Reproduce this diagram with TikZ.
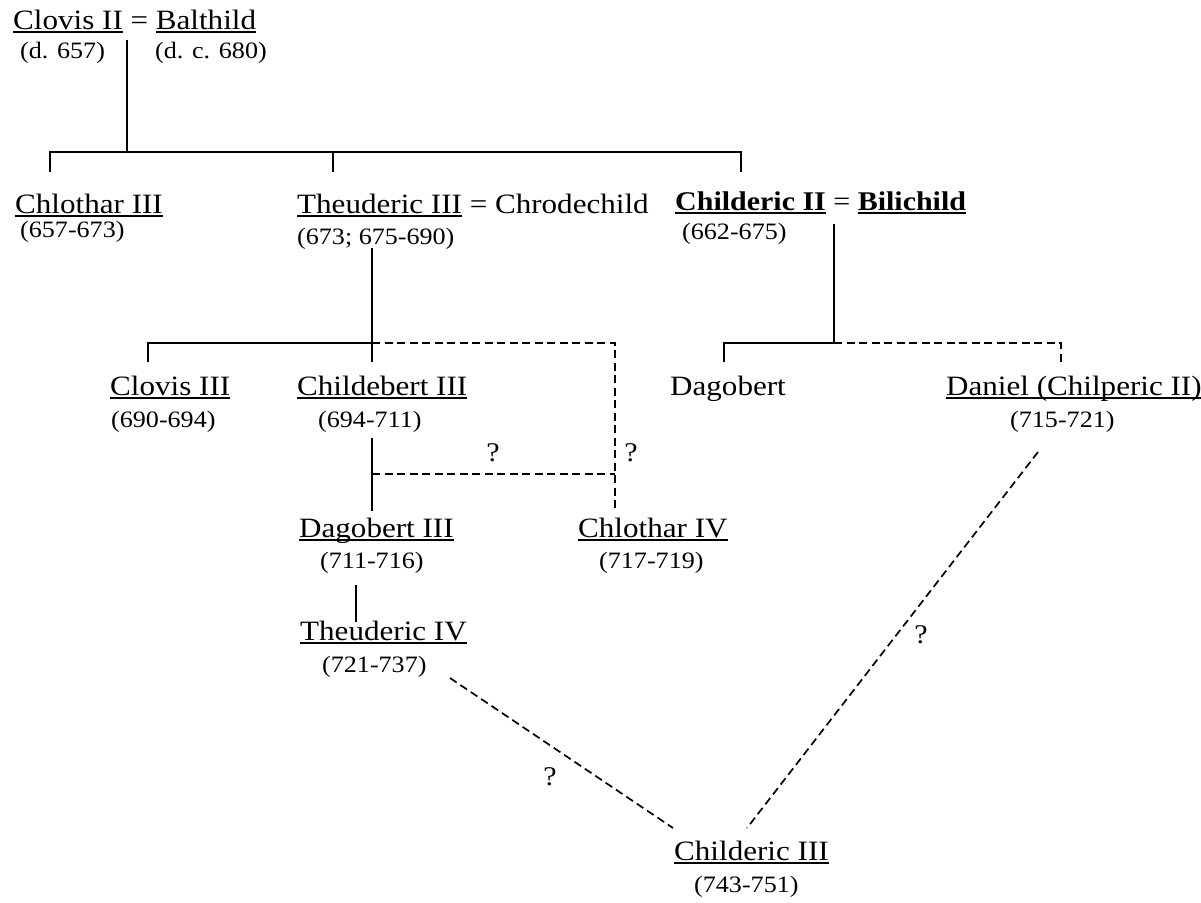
\documentclass[tikz,border=0pt]{standalone}
\usepackage{fontspec}
\setmainfont{Liberation Serif}[FakeStretch=1.11]
\newsavebox\undlbox
% underline at a fixed distance below the baseline
\newcommand\undl[1]{\sbox\undlbox{#1}\rlap{\rule[-3.5pt]{\wd\undlbox}{1.4pt}}\usebox\undlbox}
\tikzset{
  person/.style={anchor=base west, inner sep=0pt, font=\fontsize{28}{31}\selectfont},
  reign/.style={anchor=base west, inner sep=0pt, font=\fontsize{23.5}{27}\selectfont},
  query/.style={anchor=center, inner sep=0pt, font=\fontsize{27}{30}\selectfont},
  link/.style={line width=1.7pt},
  doubt/.style={line width=1.7pt, dash pattern=on 8pt off 4.5pt},
}
\begin{document}
\begin{tikzpicture}[x=1pt, y=-1pt]
\useasboundingbox[fill=white] (0,0) rectangle (1201,902);

% ---- people and reigns ----
\node[person] (clovisII) at (13,29) {\undl{Clovis II} = \undl{Balthild}};
\node[reign] (clovisIId) at (20,58) {(d. 657)};
\node[reign] (balthildd) at (155,58) {(d. c. 680)};

\node[person] (chlotharIII) at (15,213) {\undl{Chlothar III}};
\node[reign] (chlotharIIId) at (20,237) {(657-673)};
\node[person] (theudericIII) at (297,213) {\undl{Theuderic III} = Chrodechild};
\node[reign] (theudericIIId) at (297,244) {(673; 675-690)};
\node[person, font=\fontsize{27}{30}\selectfont] (childericII) at (675,210) {\textbf{\undl{Childeric II}} = \textbf{\undl{Bilichild}}};
\node[reign] (childericIId) at (682,239) {(662-675)};

\node[person] (clovisIII) at (110,395) {\undl{Clovis III}};
\node[reign] (clovisIIId) at (111,427) {(690-694)};
\node[person] (childebertIII) at (297,395) {\undl{Childebert III}};
\node[reign] (childebertIIId) at (318,427) {(694-711)};
\node[person] (dagobert) at (670,395) {Dagobert};
\node[person] (daniel) at (946,395) {\undl{Daniel (Chilperic II)}};
\node[reign] (danield) at (1010,427) {(715-721)};

\node[person] (dagobertIII) at (299,537) {\undl{Dagobert III}};
\node[reign] (dagobertIIId) at (320,568) {(711-716)};
\node[person] (chlotharIV) at (578,537) {\undl{Chlothar IV}};
\node[reign] (chlotharIVd) at (599,568) {(717-719)};

\node[person] (theudericIV) at (300,640) {\undl{Theuderic IV}};
\node[reign] (theudericIVd) at (322,672) {(721-737)};

\node[person] (childericIII) at (674,860) {\undl{Childeric III}};
\node[reign] (childericIIId) at (694,892) {(743-751)};

% ---- question marks on uncertain links ----
\node[query] (q1) at (493,453) {?};
\node[query] (q2) at (631,453) {?};
\node[query] (q3) at (550,777) {?};
\node[query] (q4) at (921,635) {?};

% ---- junction points ----
\coordinate (p0) at (127,40);
\coordinate (p0b) at (127,152);
\coordinate (b1l) at (50,152);
\coordinate (b1r) at (741,152);
\coordinate (b1c) at (333,152);
\coordinate (t1l) at (50,172);
\coordinate (t1c) at (333,172);
\coordinate (t1r) at (741,172);

\coordinate (p1) at (372,248);
\coordinate (b2m) at (372,343);
\coordinate (b2l) at (148,343);
\coordinate (t2l) at (148,362);
\coordinate (t2m) at (372,362);
\coordinate (b2r) at (615,343);
\coordinate (t2r) at (615,508);

\coordinate (p2) at (372,438);
\coordinate (p2b) at (372,511);
\coordinate (j2) at (372,474);
\coordinate (j2r) at (615,474);

\coordinate (p3) at (834,224);
\coordinate (b3m) at (834,343);
\coordinate (b3l) at (724,343);
\coordinate (t3l) at (724,362);
\coordinate (b3r) at (1061,343);
\coordinate (t3r) at (1061,363);

\coordinate (p4) at (356,585);
\coordinate (p4b) at (356,622);

\coordinate (d1a) at (450,678);
\coordinate (d1b) at (673,828);
\coordinate (d2a) at (1038,452);
\coordinate (d2b) at (747,828);

% ---- connectors ----
\draw[link] (p0) -- (p0b);
\draw[link] (t1l) -- (b1l) -- (b1r) -- (t1r);
\draw[link] (b1c) -- (t1c);

\draw[link] (p1) -- (t2m);
\draw[link] (t2l) -- (b2l) -- (b2m);
\draw[doubt] (b2m) -- (b2r) -- (t2r);

\draw[link] (p2) -- (p2b);
\draw[doubt] (j2) -- (j2r);

\draw[link] (p3) -- (b3m);
\draw[link] (t3l) -- (b3l) -- (b3m);
\draw[doubt] (b3m) -- (b3r) -- (t3r);

\draw[link] (p4) -- (p4b);

\draw[doubt] (d1a) -- (d1b);
\draw[doubt] (d2a) -- (d2b);
\end{tikzpicture}
\end{document}
